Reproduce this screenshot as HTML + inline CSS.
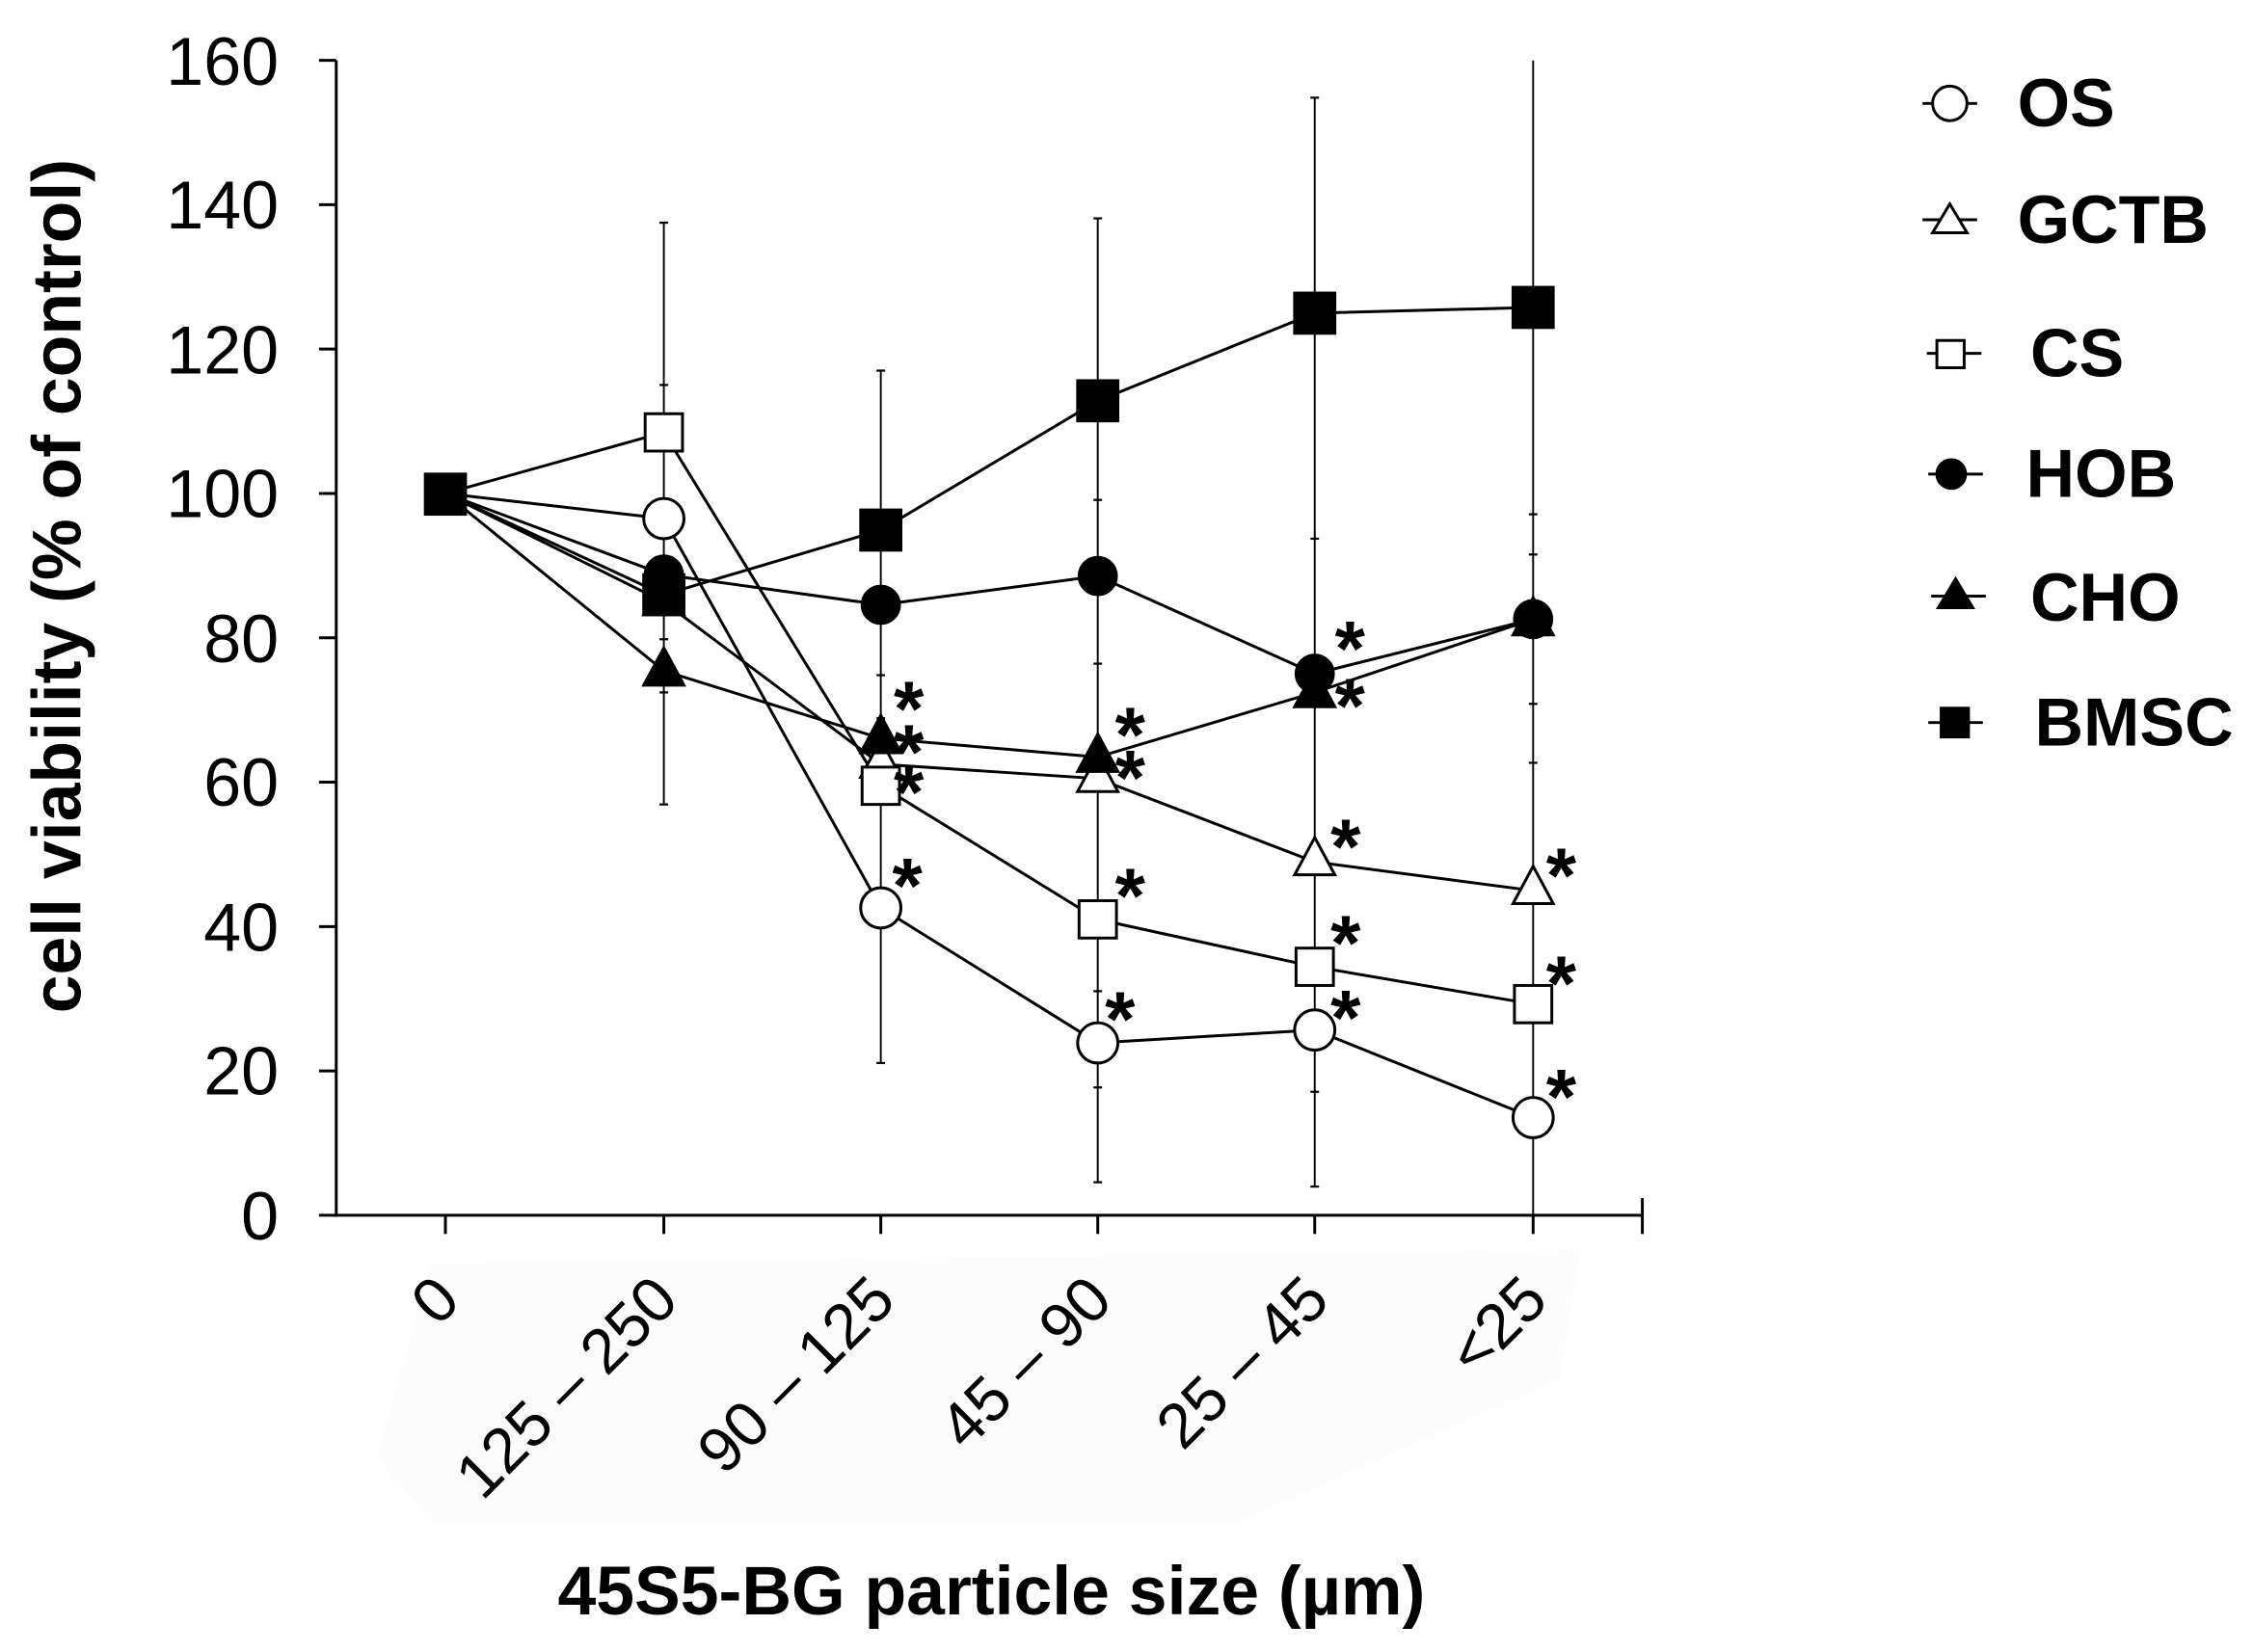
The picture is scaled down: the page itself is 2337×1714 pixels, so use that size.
<!DOCTYPE html>
<html><head><meta charset="utf-8"><style>html,body{margin:0;padding:0;background:#fff}svg{display:block}</style></head>
<body>
<svg width="2337" height="1714" viewBox="0 0 1568 1150" xmlns="http://www.w3.org/2000/svg" font-family="Liberation Sans, Arial, sans-serif">
<rect width="1568" height="1150" fill="#fff"/>
<polygon points="300,880 1100,870 1085,960 860,1060 300,1060 262,1015" fill="#fcfcfc"/>
<g stroke="#000" stroke-width="2" fill="none">
<line x1="234" y1="42" x2="234" y2="847"/>
<line x1="233" y1="846" x2="1143" y2="846"/>
<line x1="222" y1="42" x2="234" y2="42"/><line x1="222" y1="142.5" x2="234" y2="142.5"/><line x1="222" y1="243" x2="234" y2="243"/><line x1="222" y1="343.5" x2="234" y2="343.5"/><line x1="222" y1="444" x2="234" y2="444"/><line x1="222" y1="544.5" x2="234" y2="544.5"/><line x1="222" y1="645" x2="234" y2="645"/><line x1="222" y1="745.5" x2="234" y2="745.5"/><line x1="222" y1="846" x2="234" y2="846"/>
<line x1="310" y1="846" x2="310" y2="859"/><line x1="462" y1="846" x2="462" y2="859"/><line x1="613" y1="846" x2="613" y2="859"/><line x1="764" y1="846" x2="764" y2="859"/><line x1="915" y1="846" x2="915" y2="859"/><line x1="1067" y1="846" x2="1067" y2="859"/><line x1="1143" y1="834" x2="1143" y2="859"/>
</g>
<g font-size="47" text-anchor="end">
<text x="194" y="59">160</text><text x="194" y="159">140</text><text x="194" y="260">120</text><text x="194" y="360">100</text><text x="194" y="461">80</text><text x="194" y="561">60</text><text x="194" y="662">40</text><text x="194" y="762">20</text><text x="194" y="863">0</text>
</g>
<g font-size="44" text-anchor="end">
<text transform="translate(322,907) rotate(-45)">0</text>
<text transform="translate(474,907) rotate(-45)">125 – 250</text>
<text transform="translate(625,907) rotate(-45)">90 – 125</text>
<text transform="translate(776,907) rotate(-45)">45 – 90</text>
<text transform="translate(927,907) rotate(-45)">25 – 45</text>
<text transform="translate(1079,907) rotate(-45)">&lt;25</text>
</g>
<text x="690" y="1124" font-size="48" font-weight="bold" text-anchor="middle">45S5-BG particle size (µm)</text>
<text transform="translate(56,408) rotate(-90)" font-size="48" font-weight="bold" text-anchor="middle">cell viability (% of control)</text>
<g stroke="#000" stroke-width="1.3">
<line x1="462" y1="155" x2="462" y2="560"/>
<line x1="613" y1="258" x2="613" y2="740"/>
<line x1="764" y1="152" x2="764" y2="823"/>
<line x1="915" y1="68" x2="915" y2="826"/>
<line x1="1067" y1="42" x2="1067" y2="846"/>
<g stroke-width="1.5">
<line x1="459" y1="155" x2="465" y2="155"/><line x1="459" y1="268" x2="465" y2="268"/><line x1="459" y1="445" x2="465" y2="445"/><line x1="459" y1="465" x2="465" y2="465"/><line x1="459" y1="482" x2="465" y2="482"/><line x1="459" y1="560" x2="465" y2="560"/>
<line x1="610" y1="258" x2="616" y2="258"/><line x1="610" y1="470" x2="616" y2="470"/><line x1="610" y1="500" x2="616" y2="500"/><line x1="610" y1="520" x2="616" y2="520"/><line x1="610" y1="740" x2="616" y2="740"/>
<line x1="761" y1="152" x2="767" y2="152"/><line x1="761" y1="348" x2="767" y2="348"/><line x1="761" y1="462" x2="767" y2="462"/><line x1="761" y1="690" x2="767" y2="690"/><line x1="761" y1="757" x2="767" y2="757"/><line x1="761" y1="823" x2="767" y2="823"/>
<line x1="912" y1="68" x2="918" y2="68"/><line x1="912" y1="375" x2="918" y2="375"/><line x1="912" y1="464" x2="918" y2="464"/><line x1="912" y1="760" x2="918" y2="760"/><line x1="912" y1="826" x2="918" y2="826"/>
<line x1="1064" y1="358" x2="1070" y2="358"/><line x1="1064" y1="386" x2="1070" y2="386"/><line x1="1064" y1="490" x2="1070" y2="490"/><line x1="1064" y1="531" x2="1070" y2="531"/>
</g>
</g>
<g stroke="#000" stroke-width="2" fill="none">
<polyline points="310,343.5 462,361 613,632 764,726 915,717 1067,778"/>
<polyline points="310,343.5 462,419 613,532 764,542 915,600 1067,620"/>
<polyline points="310,343.5 462,301 613,547 764,640 915,673 1067,699"/>
<polyline points="310,343.5 462,400 613,421 764,401 915,469 1067,431"/>
<polyline points="310,343.5 462,467 613,514 764,527 915,482 1067,431"/>
<polyline points="310,343.5 462,414 613,369 764,279 915,218 1067,214"/>
</g>
<g stroke="#000" stroke-width="2">
<g fill="#fff">
<circle cx="462" cy="361" r="14"/><circle cx="613" cy="632" r="14"/><circle cx="764" cy="726" r="14"/><circle cx="915" cy="717" r="14"/><circle cx="1067" cy="778" r="14"/>
<polygon points="462,402 448,428 476,428"/><polygon points="613,515 599,541 627,541"/><polygon points="764,525 750,551 778,551"/><polygon points="915,583 901,609 929,609"/><polygon points="1067,603 1053,629 1081,629"/>
<rect x="449" y="288" width="26" height="26"/><rect x="600" y="534" width="26" height="26"/><rect x="751" y="627" width="26" height="26"/><rect x="902" y="660" width="26" height="26"/><rect x="1054" y="686" width="26" height="26"/>
</g>
<g fill="#000">
<circle cx="462" cy="400" r="13"/><circle cx="613" cy="421" r="13"/><circle cx="764" cy="401" r="13"/><circle cx="915" cy="469" r="13"/><circle cx="1067" cy="431" r="13"/>
<polygon points="462,451 448,477 476,477"/><polygon points="613,498 599,524 627,524"/><polygon points="764,511 750,537 778,537"/><polygon points="915,466 901,492 929,492"/><polygon points="1067,416 1053,442 1081,442"/>
<rect x="296" y="330" width="28" height="28"/><rect x="448" y="400" width="28" height="28"/><rect x="599" y="355" width="28" height="28"/><rect x="750" y="265" width="28" height="28"/><rect x="901" y="204" width="28" height="28"/><rect x="1053" y="200" width="28" height="28"/>
</g>
</g>
<g font-size="54" font-weight="bold">
<text x="622" y="512">*</text><text x="622" y="542">*</text><text x="622" y="570">*</text><text x="621" y="635">*</text>
<text x="776" y="530">*</text><text x="776" y="560">*</text><text x="776" y="642">*</text><text x="769" y="728">*</text>
<text x="929" y="470">*</text><text x="929" y="510">*</text><text x="926" y="608">*</text><text x="926" y="675">*</text><text x="926" y="727">*</text>
<text x="1076" y="628">*</text><text x="1076" y="703">*</text><text x="1076" y="782">*</text>
</g>
<g stroke="#000" stroke-width="2">
<line x1="1338" y1="72" x2="1376" y2="72"/><circle cx="1357" cy="72" r="12" fill="#fff"/>
<line x1="1338" y1="153" x2="1376" y2="153"/><polygon points="1357,142 1345,162 1369,162" fill="#fff"/>
<line x1="1341" y1="246" x2="1379" y2="246"/><rect x="1348" y="237" width="19" height="19" fill="#fff"/>
<line x1="1342" y1="330" x2="1380" y2="330"/><circle cx="1358" cy="330" r="10" fill="#000"/>
<line x1="1344" y1="415" x2="1382" y2="415"/><polygon points="1361,403 1349,423 1373,423" fill="#000"/>
<line x1="1342" y1="503" x2="1380" y2="503"/><rect x="1351" y="493" width="19" height="20" fill="#000"/>
</g>
<g font-size="47" font-weight="bold">
<text x="1404" y="88">OS</text>
<text x="1404" y="169">GCTB</text>
<text x="1413" y="262">CS</text>
<text x="1410" y="346">HOB</text>
<text x="1413" y="432">CHO</text>
<text x="1416" y="519">BMSC</text>
</g>
</svg>
</body></html>
